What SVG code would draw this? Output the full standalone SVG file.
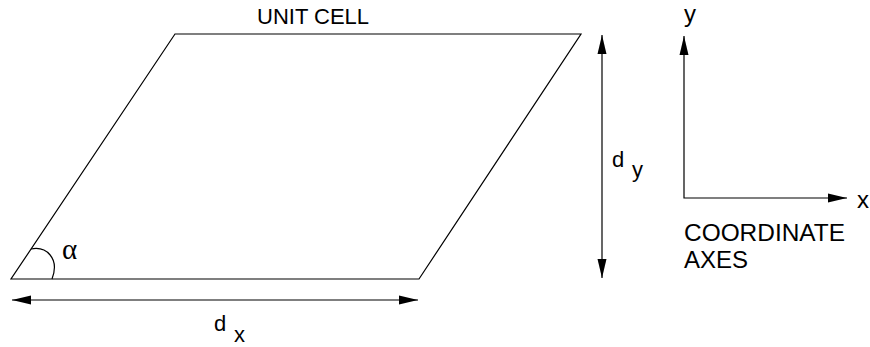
<svg xmlns="http://www.w3.org/2000/svg" width="870" height="347" viewBox="0 0 870 347">
<style>
.ln{fill:none;stroke:#000;stroke-width:1.2}
.t{font-family:"Liberation Sans",Arial,sans-serif;font-size:22px;fill:#000}
.t2{font-family:"Liberation Sans",Arial,sans-serif;font-size:24px;fill:#000}
.g{font-family:"Liberation Serif","Times New Roman",serif;font-size:29px;fill:#000}
</style>
<defs>
<marker id="ah" markerUnits="userSpaceOnUse" markerWidth="20" markerHeight="10" refX="19" refY="5" orient="auto-start-reverse" viewBox="0 0 20 10">
<path d="M0,0.5 L19,5 L0,9.5 Z" fill="#000"/>
</marker>
</defs>
<rect width="870" height="347" fill="#fff"/>
<g id="unit-cell">
<path class="ln" d="M11,279 L419,279 L581,34 L175,34 Z"/>
<text class="t" x="257" y="24">UNIT CELL</text>
</g>
<g id="angle">
<path class="ln" d="M31,249 C46,246 60,258 52,279"/>
<text class="g" x="62" y="259">α</text>
</g>
<g id="connectors">
<line class="ln" x1="12" y1="300" x2="418" y2="300" marker-start="url(#ah)" marker-end="url(#ah)"/>
<line class="ln" x1="602" y1="35" x2="602" y2="278" marker-start="url(#ah)" marker-end="url(#ah)"/>
<path class="ln" d="M684,36 L684,198 L847,198" marker-start="url(#ah)" marker-end="url(#ah)"/>
</g>
<g id="dx-label">
<text class="t" x="214" y="331">d</text>
<text class="t" x="234" y="342">x</text>
</g>
<g id="dy-label">
<text class="t" x="612" y="167">d</text>
<text class="t" x="632" y="177">y</text>
</g>
<g id="axes-labels">
<text class="t2" x="684" y="22">y</text>
<text class="t2" x="857" y="208">x</text>
<text class="t2" x="684" y="241" textLength="161" lengthAdjust="spacingAndGlyphs">COORDINATE</text>
<text class="t2" x="684" y="268">AXES</text>
</g>
</svg>
